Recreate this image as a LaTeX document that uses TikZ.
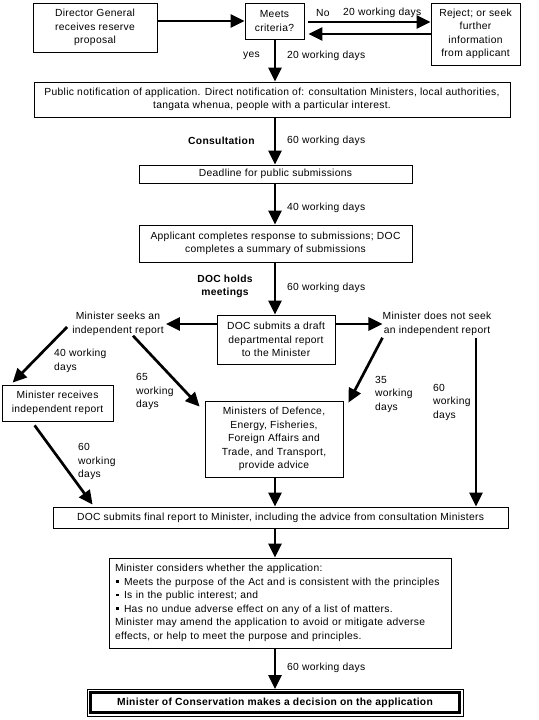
\documentclass[tikz,border=0pt]{standalone}
\usepackage{fontspec}
\setmainfont[LetterSpace=3]{Liberation Sans}
\usetikzlibrary{arrows.meta,calc}
\newcommand\mybul{\hspace*{1pt}\makebox[8pt][l]{\rule[2.5pt]{2.6pt}{2.6pt}}}
\begin{document}
\begin{tikzpicture}[x=1pt,y=-1pt,
  every node/.style={font=\fontsize{10.3pt}{13.5pt}\selectfont},
  box/.style={draw, line width=0.8pt, align=center, inner sep=0pt},
  txt/.style={align=center, inner sep=0pt},
  lbl/.style={anchor=west, align=left, inner sep=0pt},
  blbl/.style={align=center, inner sep=0pt, font=\fontsize{10.3pt}{13.5pt}\selectfont\bfseries},
  arr/.style={line width=2.7pt, -{Triangle[length=14pt,width=13pt]}},
]
\useasboundingbox (0,0) rectangle (538,720);
\coordinate (sp) at (275,0);

% boxes
\node[box, minimum width=124pt, minimum height=49pt] (dg) at (95,27.5) {Director General\\receives reserve\\proposal};
\node[box, minimum width=59pt, minimum height=36pt] (meets) at (274.5,21) {Meets\\criteria?};
\node[box, minimum width=89pt, minimum height=62pt] (rej) at (475.5,34) {Reject; or seek\\further\\information\\from applicant};
\node[box, minimum width=476pt, minimum height=35pt] (pub) at (272,99.5) {Public notification of application. Direct notification of: consultation Ministers, local authorities,\\tangata whenua, people with a particular interest.};
\node[box, minimum width=273pt, minimum height=18pt] (dead) at (275.5,174) {Deadline for public submissions};
\node[box, minimum width=273pt, minimum height=37pt] (appl) at (275.5,243.5) {Applicant completes response to submissions; DOC\\completes a summary of submissions};
\node[box, minimum width=118pt, minimum height=49pt] (draft) at (276,339.5) {DOC submits a draft\\departmental report\\to the Minister};
\node[txt] (seeks) at (118,324) {Minister seeks an\\independent report};
\node[txt] (nseek) at (437,324) {Minister does not seek\\an independent report};
\node[box, minimum width=111pt, minimum height=36pt] (recv) at (57.5,403) {Minister receives\\independent report};
\node[box, minimum width=138pt, minimum height=76pt] (mins) at (274,439) {Ministers of Defence,\\Energy, Fisheries,\\Foreign Affairs and\\Trade, and Transport,\\provide advice};
\node[box, minimum width=455pt, minimum height=21pt] (final) at (280.5,517.5) {DOC submits final report to Minister, including the advice from consultation Ministers};
\node[box, minimum width=342pt, minimum height=90pt, text width=330pt, align=left] (cons) at (280,603) {Minister considers whether the application:\\
\mybul Meets the purpose of the Act and is consistent with the principles\\
\mybul Is in the public interest; and\\
\mybul Has no undue adverse effect on any of a list of matters.\\
Minister may amend the application to avoid or mitigate adverse\\
effects, or help to meet the purpose and principles.};
\node[draw, line width=2.5pt, outer sep=0pt, inner sep=0pt, minimum width=369pt, minimum height=20pt, font=\fontsize{10.3pt}{13.5pt}\selectfont\bfseries] (dec) at (275,702.5) {Minister of Conservation makes a decision on the application};
\draw[line width=0.8pt] ([shift={(-3.5pt,3.5pt)}]dec.north west) rectangle ([shift={(3.5pt,-3.5pt)}]dec.south east);

% labels
\node[lbl] (l1) at (316,13) {No};
\node[lbl] (l2) at (343,13) {20 working days};
\node[lbl] (l3) at (243,56) {yes};
\node[lbl] (l4) at (287,56) {20 working days};
\node[blbl, anchor=west] (l5) at (188,141) {Consultation};
\node[lbl] (l6) at (287,141) {60 working days};
\node[lbl] (l7) at (287,208) {40 working days};
\node[blbl] (l8) at (225,286.5) {DOC holds\\meetings};
\node[lbl] (l9) at (287,288) {60 working days};
\node[lbl] (l10) at (54,361) {40 working\\days};
\node[lbl] (l11) at (136,391.5) {65\\working\\days};
\node[lbl] (l12) at (375,394) {35\\working\\days};
\node[lbl] (l13) at (433,402) {60\\working\\days};
\node[lbl] (l14) at (78,461.5) {60\\working\\days};
\node[lbl] (l15) at (287,668) {60 working days};

% arrows
\draw[arr] (dg.east |- meets.west) -- (meets.west);
\draw[arr] ([xshift=4pt,yshift=-1pt]meets.east) -- ([yshift=-1pt]meets.east -| rej.west);
\draw[arr] ([yshift=-13pt]meets.east -| rej.west) -- ([xshift=4pt,yshift=-13pt]meets.east);
\draw[arr] (meets.south -| sp) -- (sp |- pub.north);
\draw[arr] (pub.south -| sp) -- (sp |- dead.north);
\draw[arr] (dead.south -| sp) -- (sp |- appl.north);
\draw[arr] (appl.south -| sp) -- (sp |- draft.north);
\draw[arr, shorten >=2pt] (draft.west |- seeks.east) -- (seeks.east);
\draw[arr, shorten >=0pt] (draft.east |- nseek.west) -- (nseek.west);
\draw[arr] ([xshift=-5pt,yshift=-3pt]seeks.west) -- ([xshift=11pt,yshift=2pt]recv.north west);
\draw[arr] ([xshift=15pt]seeks.south) -- ([xshift=-5pt,yshift=-6pt]mins.north west);
\draw[arr] ([yshift=-2pt]nseek.south west) -- ([xshift=5pt,yshift=-2pt]mins.north east);
\coordinate (nsv) at ([xshift=39pt,yshift=-2pt]nseek.south);
\draw[arr] (nsv) -- (nsv |- final.north);
\draw[arr] ([xshift=33pt,yshift=-4pt]recv.south west) -- ([xshift=40pt,yshift=2pt]final.north west);
\draw[arr] (mins.south -| sp) -- (sp |- final.north);
\draw[arr] (final.south -| sp) -- (sp |- cons.north);
\draw[arr, shorten >=3.5pt] (cons.south -| sp) -- (sp |- dec.north);
\end{tikzpicture}
\end{document}
